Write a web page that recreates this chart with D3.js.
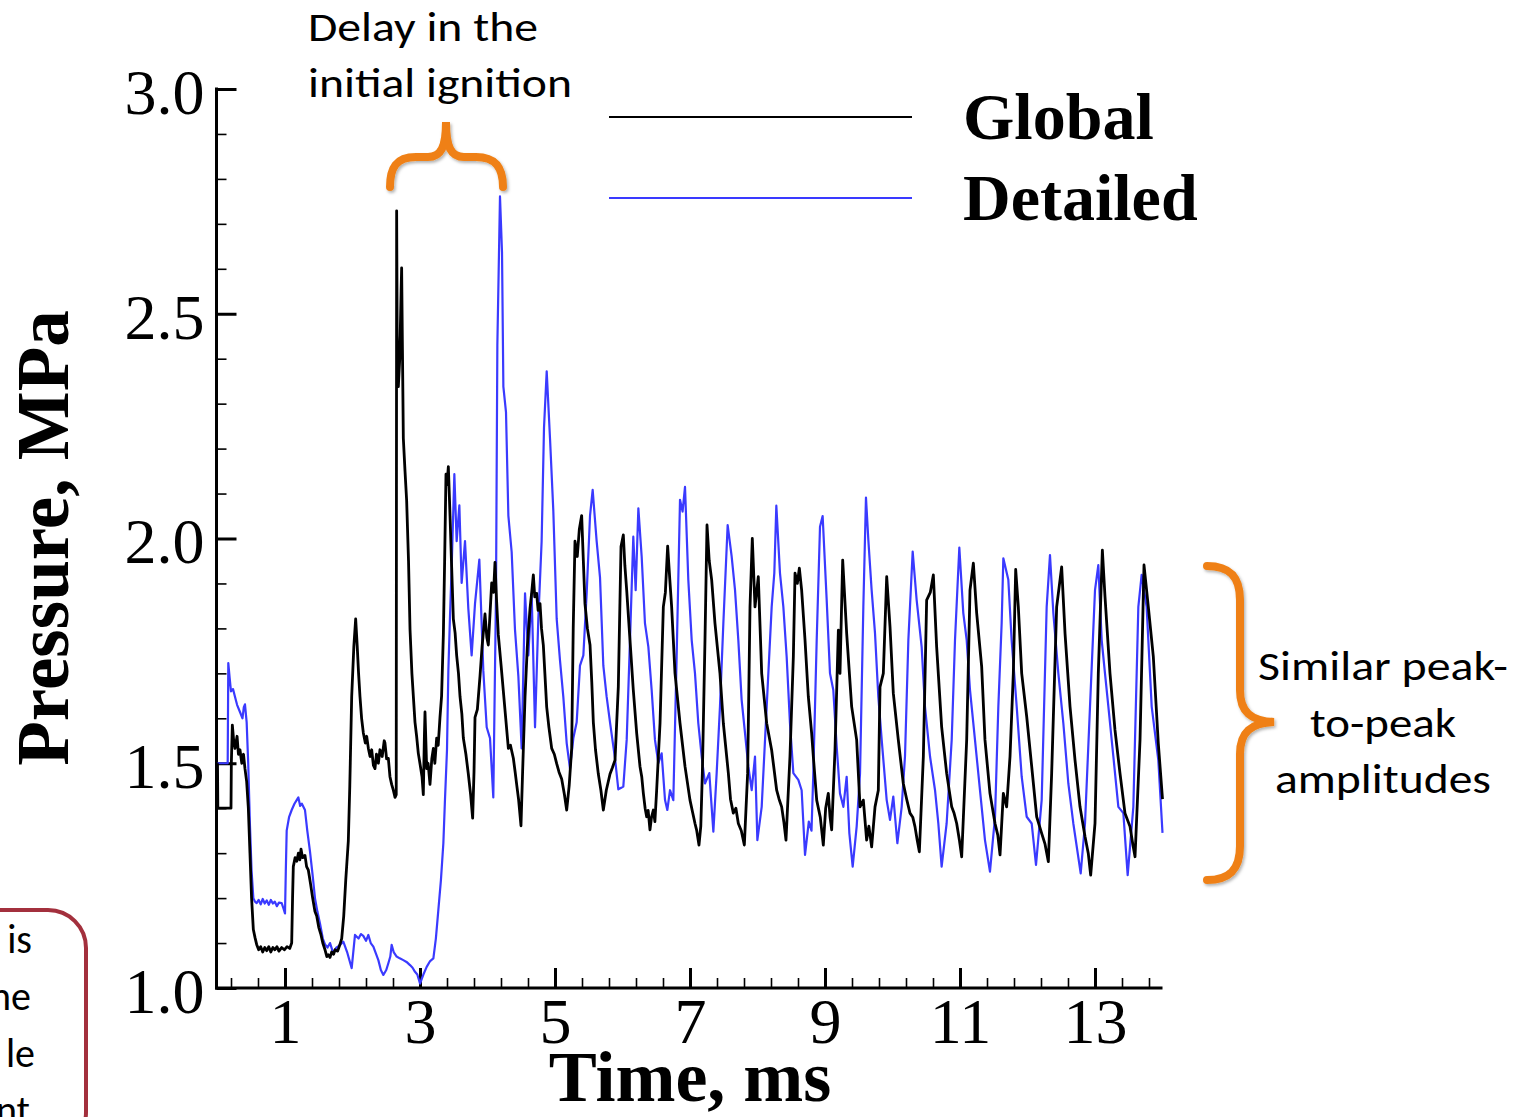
<!DOCTYPE html>
<html><head><meta charset="utf-8">
<script src="https://cdn.jsdelivr.net/npm/d3@7"></script>
<style>
html,body{margin:0;padding:0;background:#fff;overflow:hidden;}
svg{display:block;}
</style></head>
<body>
<svg id="chart" width="1518" height="1117"></svg>
<script>
// ---------- DATA ----------
const xMajorTicks = [1, 3, 5, 7, 9, 11, 13];
const yMajorTicks = [1.0, 1.5, 2.0, 2.5, 3.0];
const seriesNames = ["Global", "Detailed"];
const seriesColors = ["#000000", "#3a3aff"];

// Global (time ms, pressure MPa)
const globalSeries = [[0.000,1.50],[0.005,1.40],[0.200,1.40],[0.205,1.50],[0.220,1.585],[0.240,1.55],[0.259,1.533],[0.290,1.56],[0.310,1.52],[0.333,1.53],[0.360,1.50],[0.385,1.52],[0.407,1.488],[0.432,1.459],[0.457,1.40],[0.481,1.30],[0.505,1.20],[0.531,1.13],[0.556,1.112],[0.580,1.097],[0.610,1.085],[0.640,1.092],[0.670,1.080],[0.700,1.090],[0.730,1.083],[0.760,1.092],[0.790,1.080],[0.820,1.090],[0.850,1.085],[0.880,1.092],[0.910,1.082],[0.950,1.090],[0.990,1.085],[1.030,1.092],[1.070,1.088],[1.099,1.100],[1.112,1.20],[1.123,1.270],[1.150,1.290],[1.175,1.282],[1.198,1.300],[1.220,1.285],[1.237,1.309],[1.260,1.290],[1.296,1.295],[1.320,1.270],[1.346,1.262],[1.380,1.230],[1.410,1.200],[1.444,1.170],[1.470,1.160],[1.500,1.135],[1.530,1.120],[1.560,1.100],[1.593,1.085],[1.620,1.070],[1.642,1.074],[1.667,1.068],[1.691,1.080],[1.720,1.075],[1.741,1.085],[1.780,1.082],[1.810,1.095],[1.840,1.110],[1.870,1.160],[1.900,1.240],[1.938,1.327],[1.960,1.450],[1.988,1.648],[2.020,1.760],[2.047,1.821],[2.070,1.760],[2.090,1.700],[2.111,1.648],[2.135,1.600],[2.160,1.568],[2.190,1.545],[2.210,1.560],[2.235,1.533],[2.260,1.515],[2.284,1.530],[2.310,1.495],[2.333,1.488],[2.355,1.520],[2.383,1.500],[2.407,1.530],[2.440,1.515],[2.470,1.550],[2.481,1.545],[2.505,1.510],[2.531,1.511],[2.555,1.470],[2.580,1.453],[2.605,1.440],[2.630,1.424],[2.648,1.430],[2.654,2.729],[2.662,2.450],[2.679,2.338],[2.700,2.400],[2.720,2.550],[2.728,2.602],[2.740,2.420],[2.753,2.223],[2.778,2.150],[2.802,2.085],[2.830,1.950],[2.852,1.798],[2.880,1.700],[2.926,1.591],[2.950,1.560],[2.975,1.522],[3.000,1.499],[3.030,1.470],[3.049,1.430],[3.065,1.560],[3.074,1.614],[3.099,1.488],[3.120,1.500],[3.148,1.453],[3.175,1.510],[3.198,1.533],[3.220,1.500],[3.247,1.556],[3.270,1.540],[3.296,1.602],[3.320,1.650],[3.346,1.786],[3.365,1.950],[3.385,2.143],[3.400,2.120],[3.420,2.160],[3.445,2.050],[3.469,1.936],[3.494,1.821],[3.520,1.790],[3.543,1.740],[3.570,1.700],[3.593,1.648],[3.620,1.610],[3.642,1.556],[3.680,1.520],[3.716,1.476],[3.750,1.430],[3.780,1.378],[3.800,1.480],[3.815,1.602],[3.850,1.620],[3.889,1.694],[3.920,1.760],[3.963,1.832],[3.990,1.780],[4.012,1.763],[4.040,1.840],[4.062,1.901],[4.090,1.880],[4.111,1.947],[4.135,1.860],[4.160,1.786],[4.200,1.720],[4.235,1.660],[4.270,1.600],[4.309,1.533],[4.340,1.540],[4.383,1.511],[4.410,1.480],[4.432,1.453],[4.460,1.420],[4.496,1.361],[4.520,1.480],[4.556,1.648],[4.590,1.760],[4.630,1.844],[4.655,1.880],[4.679,1.919],[4.700,1.870],[4.728,1.878],[4.750,1.840],[4.778,1.855],[4.800,1.800],[4.827,1.763],[4.850,1.700],[4.877,1.625],[4.910,1.580],[4.951,1.533],[4.990,1.520],[5.025,1.499],[5.060,1.480],[5.099,1.465],[5.140,1.430],[5.173,1.396],[5.210,1.450],[5.247,1.533],[5.270,1.800],[5.296,1.994],[5.330,1.960],[5.360,2.020],[5.395,2.051],[5.420,1.950],[5.444,1.855],[5.480,1.800],[5.519,1.763],[5.545,1.680],[5.568,1.591],[5.600,1.530],[5.642,1.476],[5.680,1.440],[5.716,1.396],[5.760,1.440],[5.815,1.476],[5.850,1.490],[5.889,1.507],[5.938,1.670],[5.978,1.982],[6.012,2.008],[6.035,1.940],[6.062,1.885],[6.111,1.774],[6.160,1.663],[6.210,1.567],[6.259,1.493],[6.285,1.470],[6.309,1.433],[6.335,1.400],[6.358,1.381],[6.380,1.395],[6.407,1.352],[6.430,1.380],[6.457,1.396],[6.480,1.370],[6.506,1.440],[6.556,1.589],[6.605,1.848],[6.635,1.880],[6.669,1.983],[6.700,1.910],[6.728,1.848],[6.778,1.700],[6.852,1.589],[6.926,1.493],[7.000,1.418],[7.040,1.390],[7.074,1.366],[7.100,1.350],[7.133,1.318],[7.160,1.360],[7.183,1.478],[7.222,1.774],[7.252,2.030],[7.285,1.950],[7.321,1.908],[7.370,1.811],[7.444,1.700],[7.494,1.589],[7.568,1.478],[7.600,1.420],[7.642,1.389],[7.680,1.400],[7.716,1.366],[7.760,1.350],[7.805,1.318],[7.854,1.478],[7.889,1.848],[7.923,2.000],[7.963,1.848],[8.012,1.915],[8.062,1.700],[8.136,1.589],[8.210,1.529],[8.284,1.440],[8.320,1.420],[8.358,1.403],[8.390,1.370],[8.422,1.329],[8.481,1.515],[8.531,1.737],[8.556,1.923],[8.590,1.900],[8.620,1.934],[8.654,1.885],[8.704,1.774],[8.753,1.648],[8.802,1.567],[8.827,1.515],[8.877,1.418],[8.930,1.380],[8.975,1.318],[9.010,1.400],[9.049,1.433],[9.075,1.380],[9.099,1.352],[9.148,1.529],[9.198,1.796],[9.222,1.700],[9.262,1.952],[9.321,1.789],[9.395,1.626],[9.469,1.552],[9.519,1.403],[9.568,1.418],[9.617,1.329],[9.650,1.360],[9.691,1.314],[9.741,1.403],[9.790,1.440],[9.815,1.670],[9.864,1.700],[9.914,1.915],[9.963,1.804],[10.012,1.656],[10.086,1.552],[10.160,1.455],[10.210,1.420],[10.259,1.389],[10.300,1.380],[10.333,1.359],[10.365,1.330],[10.398,1.303],[10.457,1.515],[10.506,1.863],[10.560,1.880],[10.605,1.919],[10.654,1.759],[10.728,1.581],[10.802,1.478],[10.877,1.403],[10.910,1.390],[10.951,1.366],[10.990,1.330],[11.025,1.292],[11.099,1.552],[11.148,1.885],[11.198,1.945],[11.247,1.834],[11.321,1.715],[11.370,1.552],[11.444,1.433],[11.519,1.366],[11.560,1.340],[11.593,1.296],[11.642,1.433],[11.691,1.403],[11.741,1.515],[11.790,1.700],[11.825,1.931],[11.864,1.848],[11.914,1.700],[11.988,1.604],[12.062,1.493],[12.136,1.381],[12.210,1.344],[12.260,1.320],[12.309,1.281],[12.358,1.478],[12.432,1.848],[12.506,1.937],[12.556,1.789],[12.630,1.626],[12.704,1.507],[12.778,1.403],[12.852,1.337],[12.900,1.300],[12.936,1.251],[13.000,1.366],[13.049,1.700],[13.109,1.974],[13.148,1.871],[13.222,1.700],[13.296,1.574],[13.370,1.478],[13.444,1.389],[13.519,1.359],[13.560,1.320],[13.593,1.292],[13.667,1.552],[13.726,1.941],[13.790,1.848],[13.864,1.737],[13.938,1.544],[14.000,1.420]];

// Detailed (time ms, pressure MPa)
const detailedSeries = [[0.000,1.50],[0.151,1.50],[0.160,1.723],[0.180,1.690],[0.200,1.660],[0.230,1.665],[0.259,1.648],[0.290,1.630],[0.333,1.614],[0.370,1.600],[0.390,1.625],[0.407,1.631],[0.432,1.591],[0.455,1.500],[0.481,1.361],[0.505,1.260],[0.531,1.200],[0.556,1.192],[0.580,1.189],[0.610,1.196],[0.640,1.186],[0.670,1.198],[0.700,1.188],[0.730,1.195],[0.760,1.185],[0.790,1.196],[0.820,1.188],[0.850,1.192],[0.880,1.182],[0.910,1.190],[0.951,1.189],[0.975,1.178],[1.000,1.166],[1.012,1.260],[1.025,1.350],[1.060,1.380],[1.099,1.396],[1.140,1.410],[1.173,1.418],[1.198,1.424],[1.225,1.405],[1.250,1.410],[1.296,1.396],[1.330,1.350],[1.370,1.304],[1.410,1.250],[1.444,1.200],[1.480,1.170],[1.519,1.143],[1.560,1.110],[1.593,1.097],[1.630,1.090],[1.667,1.100],[1.716,1.077],[1.760,1.090],[1.810,1.095],[1.864,1.103],[1.920,1.080],[1.988,1.044],[2.037,1.118],[2.090,1.110],[2.125,1.120],[2.160,1.116],[2.200,1.105],[2.235,1.118],[2.270,1.100],[2.309,1.092],[2.383,1.062],[2.420,1.040],[2.457,1.029],[2.500,1.040],[2.531,1.055],[2.560,1.070],[2.580,1.096],[2.610,1.080],[2.654,1.070],[2.700,1.066],[2.753,1.062],[2.800,1.058],[2.852,1.051],[2.890,1.045],[2.926,1.036],[2.960,1.030],[3.000,1.010],[3.050,1.030],[3.099,1.047],[3.150,1.060],[3.198,1.066],[3.235,1.110],[3.272,1.174],[3.310,1.240],[3.346,1.322],[3.370,1.419],[3.400,1.530],[3.420,1.706],[3.445,1.830],[3.469,1.936],[3.509,2.143],[3.543,1.994],[3.583,2.074],[3.617,1.901],[3.667,1.994],[3.716,1.844],[3.765,1.740],[3.815,1.855],[3.879,1.953],[3.938,1.706],[3.988,1.580],[4.037,1.556],[4.086,1.424],[4.126,1.878],[4.146,2.430],[4.185,2.761],[4.215,2.637],[4.235,2.338],[4.274,2.281],[4.309,2.051],[4.358,1.970],[4.407,1.798],[4.457,1.694],[4.506,1.533],[4.556,1.878],[4.605,1.740],[4.654,1.878],[4.704,1.580],[4.753,1.821],[4.802,1.994],[4.837,2.246],[4.877,2.372],[4.926,2.223],[4.975,2.062],[5.025,1.821],[5.074,1.729],[5.123,1.648],[5.173,1.545],[5.222,1.488],[5.272,1.556],[5.321,1.591],[5.370,1.717],[5.420,1.740],[5.469,1.878],[5.519,2.051],[5.558,2.108],[5.617,1.994],[5.667,1.913],[5.716,1.717],[5.765,1.648],[5.815,1.591],[5.889,1.511],[5.938,1.442],[5.975,1.445],[6.012,1.448],[6.062,1.552],[6.111,1.774],[6.160,2.004],[6.195,1.885],[6.235,2.067],[6.284,1.960],[6.333,1.811],[6.383,1.759],[6.432,1.663],[6.481,1.552],[6.531,1.500],[6.580,1.522],[6.630,1.418],[6.664,1.396],[6.704,1.440],[6.753,1.418],[6.802,1.737],[6.852,2.086],[6.890,2.060],[6.926,2.115],[6.975,1.908],[7.025,1.774],[7.074,1.700],[7.123,1.589],[7.173,1.515],[7.222,1.455],[7.286,1.478],[7.346,1.348],[7.395,1.478],[7.444,1.626],[7.494,1.811],[7.558,2.030],[7.617,1.960],[7.667,1.885],[7.716,1.774],[7.765,1.641],[7.815,1.567],[7.864,1.493],[7.914,1.440],[7.963,1.515],[7.998,1.329],[8.062,1.403],[8.136,1.626],[8.210,1.848],[8.249,1.923],[8.279,2.073],[8.333,1.923],[8.383,1.848],[8.432,1.737],[8.481,1.589],[8.531,1.478],[8.605,1.463],[8.654,1.440],[8.704,1.296],[8.760,1.370],[8.800,1.350],[8.827,1.478],[8.877,1.774],[8.926,2.026],[8.965,2.050],[9.025,1.863],[9.074,1.700],[9.123,1.663],[9.173,1.537],[9.222,1.433],[9.272,1.403],[9.321,1.470],[9.361,1.344],[9.410,1.270],[9.469,1.359],[9.519,1.478],[9.568,1.848],[9.607,2.091],[9.642,1.997],[9.691,1.885],[9.741,1.789],[9.790,1.648],[9.840,1.552],[9.914,1.418],[9.963,1.374],[10.012,1.426],[10.072,1.322],[10.136,1.403],[10.185,1.515],[10.235,1.774],[10.299,1.971],[10.358,1.863],[10.432,1.759],[10.481,1.626],[10.556,1.515],[10.630,1.440],[10.679,1.366],[10.728,1.270],[10.802,1.366],[10.877,1.552],[10.926,1.774],[10.990,1.980],[11.049,1.834],[11.099,1.774],[11.148,1.663],[11.222,1.552],[11.296,1.440],[11.370,1.329],[11.444,1.259],[11.519,1.381],[11.568,1.626],[11.617,1.811],[11.642,1.956],[11.716,1.908],[11.765,1.774],[11.840,1.626],[11.914,1.470],[11.988,1.381],[12.062,1.366],[12.126,1.274],[12.210,1.418],[12.284,1.848],[12.333,1.963],[12.383,1.834],[12.457,1.700],[12.531,1.589],[12.605,1.455],[12.679,1.366],[12.788,1.255],[12.852,1.366],[12.926,1.626],[13.000,1.885],[13.049,1.941],[13.099,1.774],[13.148,1.700],[13.198,1.626],[13.272,1.515],[13.346,1.403],[13.420,1.389],[13.484,1.251],[13.568,1.403],[13.642,1.848],[13.691,1.919],[13.765,1.848],[13.840,1.626],[13.938,1.507],[14.000,1.345]];

// ---------- CHART ----------
const svg = d3.select("#chart");
const x = d3.scaleLinear().domain([0, 14]).range([217.5, 1162.5]);
const y = d3.scaleLinear().domain([1, 3]).range([988, 89]);
const serif = "'Liberation Serif','Times New Roman',serif";
const sans = "Carlito,Calibri,Lato,'Open Sans',sans-serif";
const orange = "#EF8014";

// minor ticks
const xMinor = d3.range(0.2, 14, 0.4).filter(v => !xMajorTicks.some(m => Math.abs(m - v) < 1e-6));
const yMinor = d3.range(1.1, 3.0, 0.1).filter(v => !yMajorTicks.some(m => Math.abs(m - v) < 1e-6));

const gxMinor = svg.append("g").attr("transform", `translate(0,${y(1)})`)
  .call(d3.axisBottom(x).tickValues(xMinor).tickSize(-10).tickSizeOuter(0).tickFormat(""));
gxMinor.select(".domain").remove();
gxMinor.selectAll("line").attr("stroke", "#000").attr("stroke-width", 1.6);

const gyMinor = svg.append("g").attr("transform", `translate(${x(0) - 1},0)`)
  .call(d3.axisLeft(y).tickValues(yMinor).tickSize(-10).tickSizeOuter(0).tickFormat(""));
gyMinor.select(".domain").remove();
gyMinor.selectAll("line").attr("stroke", "#000").attr("stroke-width", 1.6);

const gx = svg.append("g").attr("transform", `translate(0,${y(1)})`)
  .call(d3.axisBottom(x).tickValues(xMajorTicks).tickSize(-20).tickSizeOuter(0).tickPadding(10).tickFormat(d3.format("d")));
gx.select(".domain").remove();
gx.selectAll("line").attr("stroke", "#000").attr("stroke-width", 3);
gx.selectAll("text").attr("font-family", serif).attr("font-size", 64).attr("fill", "#000");

const gy = svg.append("g").attr("transform", `translate(${x(0) - 1},0)`)
  .call(d3.axisLeft(y).tickValues(yMajorTicks).tickSize(-20).tickSizeOuter(0).tickPadding(12).tickFormat(d3.format(".1f")));
gy.select(".domain").remove();
gy.selectAll("line").attr("stroke", "#000").attr("stroke-width", 3);
gy.selectAll("text").attr("font-family", serif).attr("font-size", 64).attr("fill", "#000").attr("dy", "0.38em");

// axis frame lines
svg.append("line").attr("x1", x(0) - 1).attr("x2", x(0) - 1).attr("y1", y(3) - 1.5).attr("y2", y(1) + 1.5)
  .attr("stroke", "#000").attr("stroke-width", 3);
svg.append("line").attr("x1", x(0) - 2.5).attr("x2", x(14)).attr("y1", y(1)).attr("y2", y(1))
  .attr("stroke", "#000").attr("stroke-width", 3);

// series
const line = d3.line().x(d => x(d[0])).y(d => y(d[1]));
svg.append("path").datum(detailedSeries).attr("d", line).attr("fill", "none")
  .attr("stroke", seriesColors[1]).attr("stroke-width", 2.2).attr("stroke-linejoin", "round");
svg.append("path").datum(globalSeries).attr("d", line).attr("fill", "none")
  .attr("stroke", seriesColors[0]).attr("stroke-width", 2.8).attr("stroke-linejoin", "round");

// axis titles
svg.append("text").attr("x", 690).attr("y", 1101).attr("text-anchor", "middle")
  .attr("font-family", serif).attr("font-weight", "bold").attr("font-size", 72).text("Time, ms");
svg.append("text").attr("transform", "translate(68,538) rotate(-90)").attr("text-anchor", "middle")
  .attr("font-family", serif).attr("font-weight", "bold").attr("font-size", 73).text("Pressure, MPa");

// legend
const legendY = [117, 198];
seriesNames.forEach((name, i) => {
  svg.append("line").attr("x1", 609).attr("x2", 912).attr("y1", legendY[i]).attr("y2", legendY[i])
    .attr("stroke", seriesColors[i]).attr("stroke-width", 2);
  svg.append("text").attr("x", 963).attr("y", legendY[i] + 22)
    .attr("font-family", serif).attr("font-weight", "bold").attr("font-size", 66).text(name);
});

// annotations
const ann = svg.append("g").attr("font-family", sans).attr("font-size", 40).attr("fill", "#000");
ann.append("text").attr("x", 308).attr("y", 41).attr("textLength", 230).attr("lengthAdjust", "spacingAndGlyphs").text("Delay in the");
ann.append("text").attr("x", 308).attr("y", 97).attr("textLength", 264).attr("lengthAdjust", "spacingAndGlyphs").text("initial ignition");

const defs = svg.append("defs");
const f = defs.append("filter").attr("id", "sh").attr("x", "-20%").attr("y", "-20%").attr("width", "140%").attr("height", "140%");
f.append("feDropShadow").attr("dx", 1.5).attr("dy", 2).attr("stdDeviation", 1.5).attr("flood-color", "#000").attr("flood-opacity", 0.3);

svg.append("path")
  .attr("d", "M 390 187 C 390 168, 396 157, 416 157 L 428 157 C 441 157, 446 147, 446 122 C 446 147, 451 157, 464 157 L 476 157 C 496 157, 503 168, 503 187")
  .attr("fill", "none").attr("stroke", orange).attr("stroke-width", 8).attr("stroke-linecap", "round").attr("filter", "url(#sh)");

svg.append("path")
  .attr("d", "M 1207 566 C 1229 566, 1240 576, 1240 600 L 1240 690 C 1240 712, 1251 721, 1274 722 C 1251 723, 1240 732, 1240 754 L 1240 846 C 1240 870, 1229 880, 1207 880")
  .attr("fill", "none").attr("stroke", orange).attr("stroke-width", 8).attr("stroke-linecap", "round").attr("filter", "url(#sh)");

const ann2 = svg.append("g").attr("font-family", sans).attr("font-size", 40).attr("text-anchor", "middle");
[["Similar peak-", 680, 250], ["to-peak", 737, 146], ["amplitudes", 793, 216]].forEach(([t, yy, w]) => {
  ann2.append("text").attr("x", 1383).attr("y", yy).attr("textLength", w).attr("lengthAdjust", "spacingAndGlyphs").text(t);
});

// bottom-left clipped note box
svg.append("rect").attr("x", -60).attr("y", 910).attr("width", 146).attr("height", 240).attr("rx", 38)
  .attr("fill", "none").attr("stroke", "#A3303D").attr("stroke-width", 4);
const note = svg.append("g").attr("font-family", sans).attr("font-size", 40).attr("text-anchor", "end");
[["this is", 953, 32], ["the", 1010, 31], ["le", 1067, 35], ["point", 1124, 30]].forEach(([t, yy, xe]) => {
  note.append("text").attr("x", xe).attr("y", yy).text(t);
});
</script>
</body></html>
